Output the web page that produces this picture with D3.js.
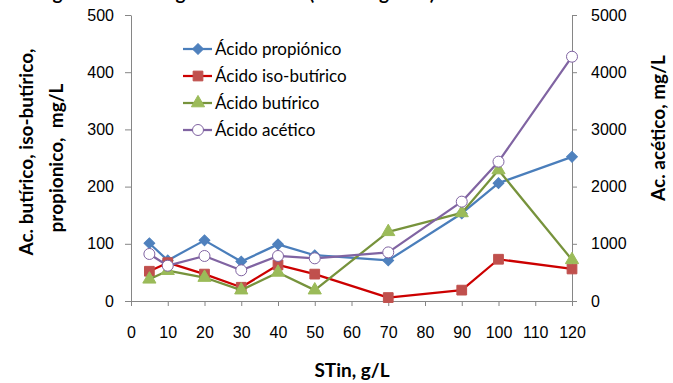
<!DOCTYPE html>
<html>
<head>
<meta charset="utf-8">
<script src="https://cdn.jsdelivr.net/npm/d3@7"></script>
<style>
  body { margin: 0; background: #fff; }
  svg { font-family: Lato, "Open Sans", sans-serif; }
</style>
</head>
<body>
<svg id="chart" width="673" height="383"></svg>
<script>
// STin values (g/L) shared by all series
const stin = [5, 10, 20, 30, 40, 50, 70, 90, 100, 120];

// left axis series, mg/L
const propionico = [101, 71, 106, 69, 99, 80, 71, 153, 206, 252];
const isoButirico = [52, 67, 47, 24, 63, 47, 6, 19, 73, 56];
const butirico = [38, 53, 41, 19, 50, 19, 121, 154, 229, 72];
// right axis series, mg/L
const acetico = [822, 617, 787, 537, 787, 746, 850, 1737, 2436, 4271];

const xTicks = d3.range(0, 121, 10);
const leftTicks = [0, 100, 200, 300, 400, 500];
const rightTicks = [0, 1000, 2000, 3000, 4000, 5000];

const svg = d3.select("#chart");
const plotLeft = 131, plotRight = 572, plotTop = 15, plotBottom = 301;
const axisColor = "#868686";

const x = d3.scaleLinear().domain([0, 120]).range([plotLeft, plotRight]);
const yL = d3.scaleLinear().domain([0, 500]).range([plotBottom, plotTop]);
const yR = d3.scaleLinear().domain([0, 5000]).range([plotBottom, plotTop]);

// title, cut off at the top edge in the original too
svg.append("text")
  .attr("x", 236).attr("y", 0)
  .attr("text-anchor", "middle")
  .attr("font-size", 19).attr("font-weight", "bold")
  .text("Figura 4. Ácidos grasos volátiles (reactor global)");

// axes
const styleAxis = (g) => {
  g.select(".domain").attr("stroke", axisColor);
  g.selectAll(".tick line").attr("stroke", axisColor);
  g.selectAll(".tick text").attr("fill", "#000").attr("font-size", 16);
};

svg.append("g")
  .attr("transform", `translate(0,${plotBottom})`)
  .call(d3.axisBottom(x).tickValues(xTicks).tickSize(5).tickSizeOuter(0).tickPadding(21))
  .call(styleAxis);

svg.append("g")
  .attr("transform", `translate(${plotLeft},0)`)
  .call(d3.axisLeft(yL).tickValues(leftTicks).tickSize(6).tickSizeOuter(0).tickPadding(11))
  .call(styleAxis);

svg.append("g")
  .attr("transform", `translate(${plotRight},0)`)
  .call(d3.axisRight(yR).tickValues(rightTicks).tickFormat(d3.format("d"))
    .tickSize(5).tickSizeOuter(0).tickPadding(14))
  .call(styleAxis);

// axis titles
svg.append("text")
  .attr("x", 352).attr("y", 377)
  .attr("text-anchor", "middle")
  .attr("font-size", 19).attr("font-weight", "bold")
  .text("STin, g/L");

svg.append("text")
  .attr("transform", "translate(33,152) rotate(-90)")
  .attr("text-anchor", "middle")
  .attr("font-size", 19).attr("font-weight", "bold")
  .text("Ac. butírico, iso-butírico,");

svg.append("text")
  .attr("transform", "translate(63,158) rotate(-90)")
  .attr("text-anchor", "middle")
  .attr("font-size", 19).attr("font-weight", "bold")
  .style("white-space", "pre")
  .text("propionico,  mg/L");

svg.append("text")
  .attr("transform", "translate(665,128) rotate(-90)")
  .attr("text-anchor", "middle")
  .attr("font-size", 19).attr("font-weight", "bold")
  .text("Ac. acético, mg/L");

// series (diamond = square turned 45 degrees, like the Excel marker)
const series = [
  { name: "Ácido propiónico", values: propionico, y: yL, line: "#4A7EBB", fill: "#4F81BD", stroke: "#4F81BD", symbol: d3.symbolSquare, size: 58, rot: 45 },
  { name: "Ácido iso-butírico", values: isoButirico, y: yL, line: "#CC0000", fill: "#C0504D", stroke: "#C0504D", symbol: d3.symbolSquare, size: 95, rot: 0 },
  { name: "Ácido butírico", values: butirico, y: yL, line: "#77933C", fill: "#9BBB59", stroke: "#9BBB59", symbol: d3.symbolTriangle, size: 75, rot: 0 },
  { name: "Ácido acético", values: acetico, y: yR, line: "#8064A2", fill: "#fff", stroke: "#8064A2", symbol: d3.symbolCircle, size: 95, rot: 0 }
];

series.forEach((s) => {
  const pts = stin.map((v, i) => [v, s.values[i]]);
  const line = d3.line().x((d) => x(d[0])).y((d) => s.y(d[1]));

  svg.append("path")
    .datum(pts)
    .attr("d", line)
    .attr("fill", "none")
    .attr("stroke", s.line)
    .attr("stroke-width", 2.25)
    .attr("stroke-linejoin", "round");

  svg.append("g")
    .selectAll("path")
    .data(pts)
    .join("path")
    .attr("transform", (d) => `translate(${x(d[0])},${s.y(d[1])}) rotate(${s.rot})`)
    .attr("d", d3.symbol().type(s.symbol).size(s.size))
    .attr("fill", s.fill)
    .attr("stroke", s.stroke)
    .attr("stroke-width", 1);
});

// legend
const legend = svg.append("g");
series.forEach((s, i) => {
  const ly = 49 + i * 27;
  const g = legend.append("g").attr("transform", `translate(0,${ly})`);
  g.append("line")
    .attr("x1", 183).attr("x2", 212)
    .attr("stroke", s.line).attr("stroke-width", 2.25);
  g.append("path")
    .attr("transform", `translate(198,0) rotate(${s.rot})`)
    .attr("d", d3.symbol().type(s.symbol).size(s.size))
    .attr("fill", s.fill).attr("stroke", s.stroke);
  g.append("text")
    .attr("x", 215).attr("y", 6)
    .attr("font-size", 17)
    .text(s.name);
});
</script>
</body>
</html>
